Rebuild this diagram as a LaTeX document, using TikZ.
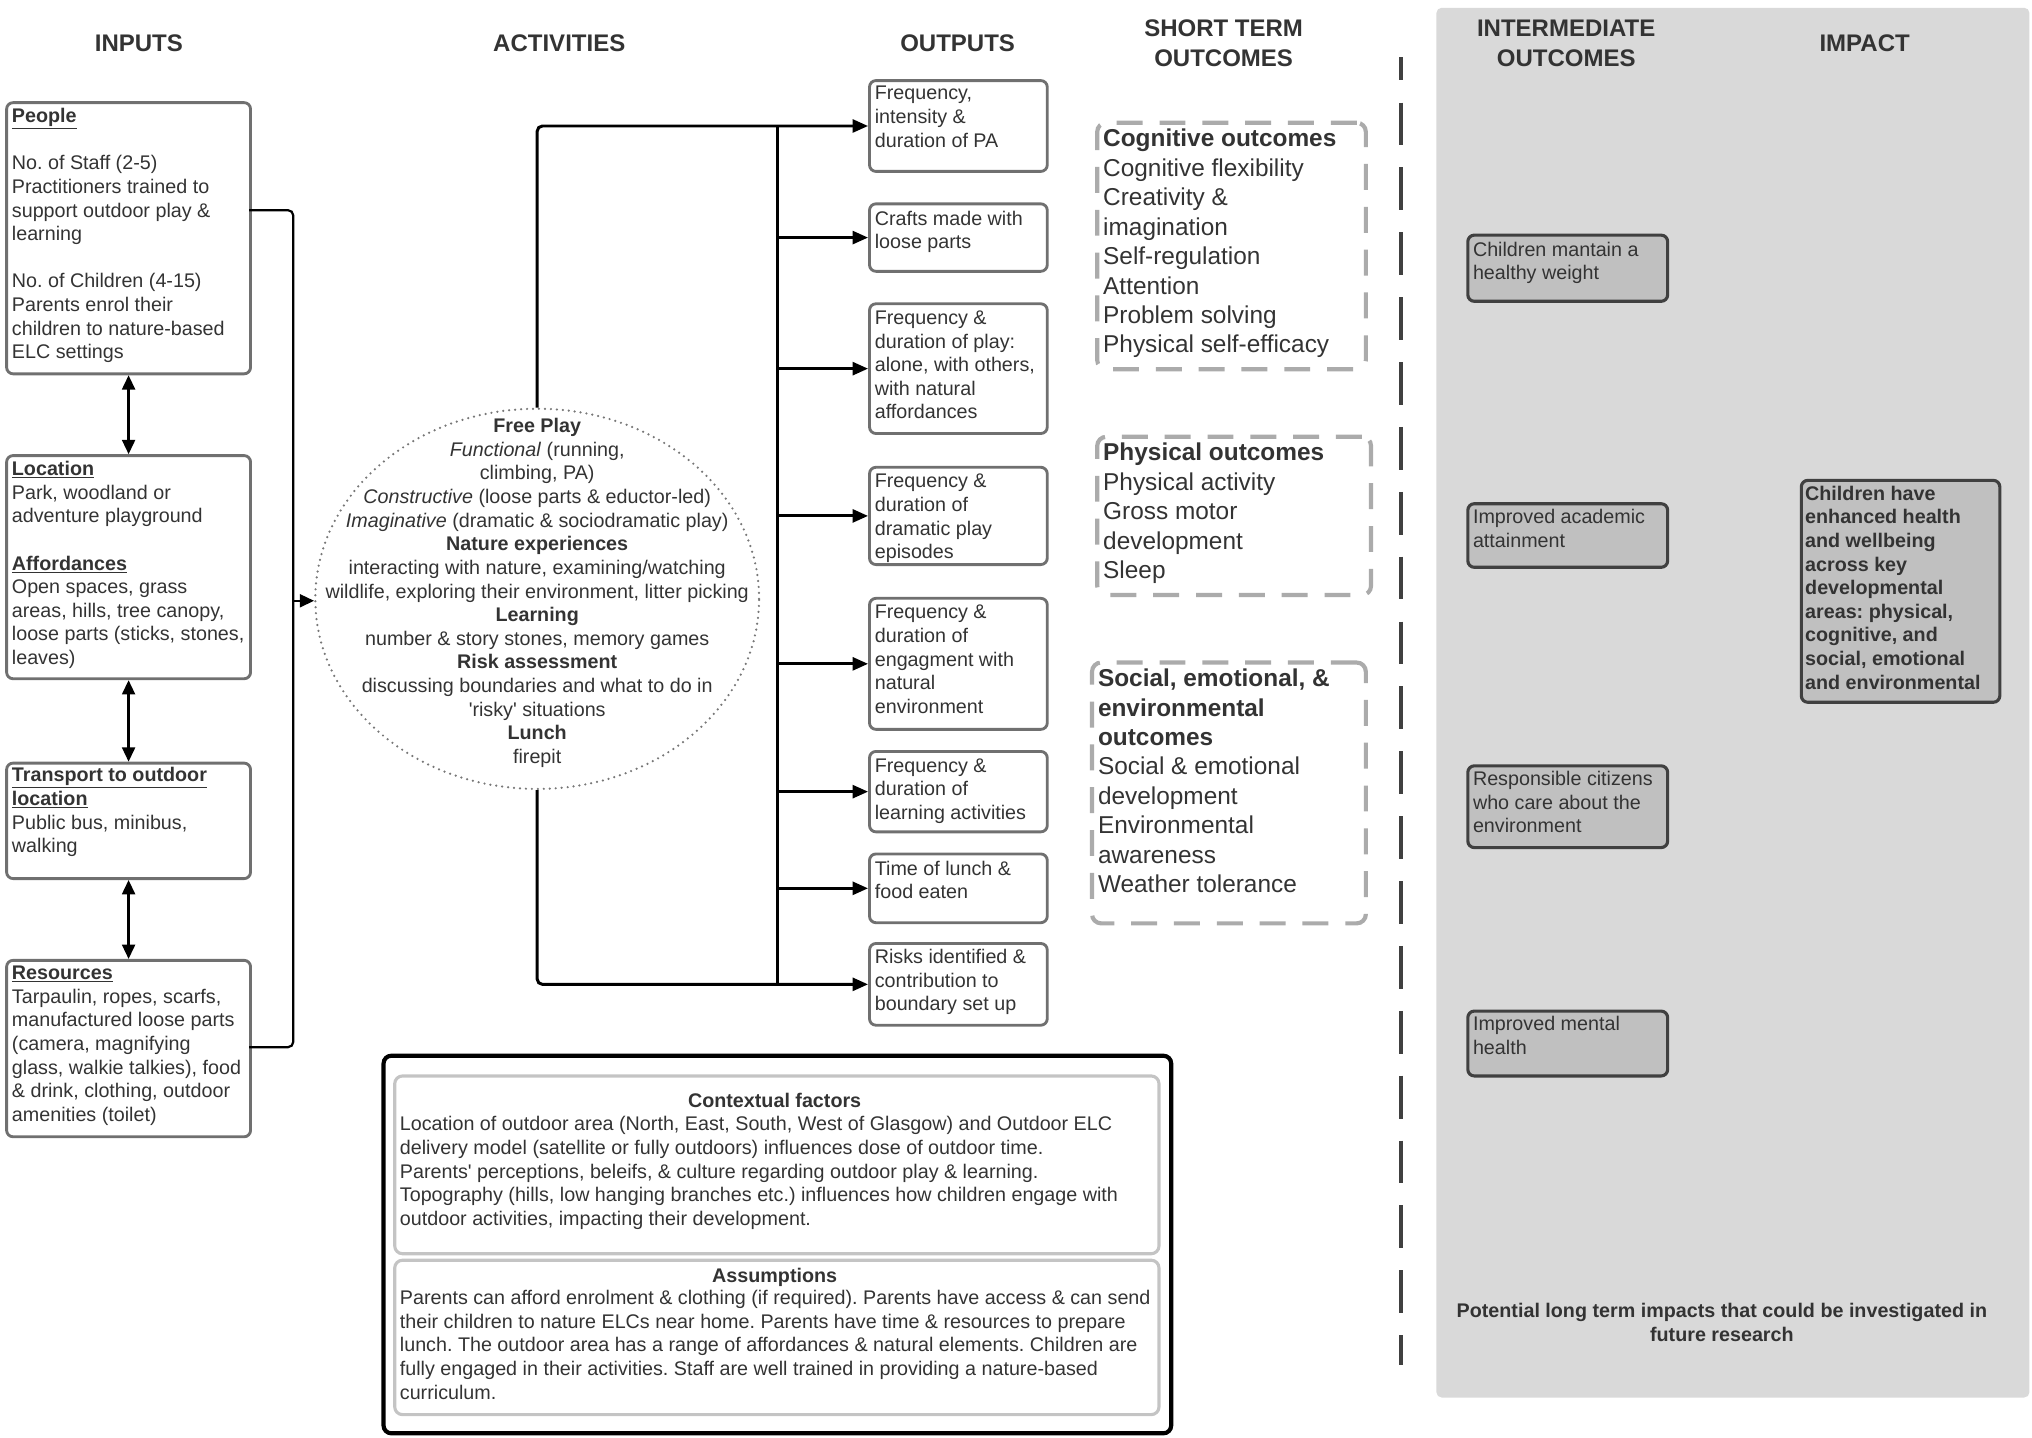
\documentclass[tikz,border=0pt]{standalone}
\usepackage{fontspec}
\setmainfont{Liberation Sans}
\usetikzlibrary{arrows.meta,shapes.geometric,calc}
\definecolor{txt}{HTML}{333333}
\definecolor{boxgray}{HTML}{707070}
\definecolor{dashgray}{HTML}{ABABAB}
\definecolor{dotgray}{HTML}{777777}
\definecolor{panel}{HTML}{D9D9D9}
\definecolor{midfill}{HTML}{C0C0C0}
\definecolor{darkline}{HTML}{404040}
\definecolor{ctxline}{HTML}{C4C4C4}
\newcommand\bodyfont{\fontsize{15.2}{18.2}\selectfont}
\newcommand\bigfont{\fontsize{18.8}{22.7}\selectfont}
\newcommand\hdrfont{\fontsize{18.5}{23}\selectfont\bfseries}
\newcommand\ulb[1]{\underline{\textbf{#1}}}
\frenchspacing
\tikzset{
  hdr/.style={font=\hdrfont, text=txt, align=center, inner sep=0pt, yshift=-1pt},
  body/.style={font=\bodyfont, text=txt, align=left, inner sep=0pt, anchor=north west, yshift=-2pt},
  bodyc/.style={font=\bodyfont, text=txt, align=center, inner sep=0pt, anchor=north, yshift=-2pt},
  bigtext/.style={font=\bigfont, text=txt, align=left, inner sep=0pt, anchor=north west, yshift=-2pt},
  inbox/.style={draw=boxgray, line width=2.2pt, rounded corners=5pt, anchor=north west, inner sep=0pt},
  stbox/.style={draw=dashgray, line width=3.2pt, rounded corners=7pt, dash pattern=on 20pt off 13pt, anchor=north west, inner sep=0pt},
  midbox/.style={draw=darkline, fill=midfill, line width=2.4pt, rounded corners=5pt, anchor=north west, inner sep=0pt},
  ctxbox/.style={draw=ctxline, line width=2.4pt, rounded corners=6pt, anchor=north west, inner sep=0pt},
  outerbox/.style={draw=black, line width=3.2pt, rounded corners=6pt, anchor=north west, inner sep=0pt},
  conn/.style={draw=black, line width=2.3pt, rounded corners=4pt},
  thinconn/.style={draw=black, line width=1.7pt, rounded corners=4pt},
  arr/.style={conn, -{Triangle[length=12pt,width=10pt]}},
  thinarr/.style={thinconn, -{Triangle[length=11pt,width=10pt]}},
  dbl/.style={thinconn, {Triangle[length=11pt,width=10pt]}-{Triangle[length=11pt,width=10pt]}},
  sep/.style={draw=darkline, line width=3pt, dash pattern=on 33pt off 17pt, dash phase=15pt},
}
\begin{document}
\begin{tikzpicture}[x=1pt,y=-1pt]
\useasboundingbox (0,0) rectangle (1566,1108);

% grey panel
\fill[panel, rounded corners=4pt] (1107,6) rectangle (1564,1077);

% headers
\node[hdr] (hInputs) at (107,32) {INPUTS};
\node[hdr] (hAct) at (431,32) {ACTIVITIES};
\node[hdr] (hOut) at (738,32) {OUTPUTS};
\node[hdr] (hShort) at (943,32.5) {SHORT TERM\\OUTCOMES};
\node[hdr] (hInter) at (1207,32.5) {INTERMEDIATE\\OUTCOMES};
\node[hdr] (hImpact) at (1437,32) {IMPACT};

% separator
\draw[sep] (1080,44) -- (1080,1052);

% ---------- inputs ----------
\node[inbox, minimum width=188pt, minimum height=209pt] (people) at (4,78) {};
\node[inbox, minimum width=188pt, minimum height=172pt] (location) at (4,350) {};
\node[inbox, minimum width=188pt, minimum height=89pt] (transport) at (4,587) {};
\node[inbox, minimum width=188pt, minimum height=136pt] (resources) at (4,739) {};

\node[body] (tPeople) at (9,81.3) {\ulb{People}\\[18.2pt]
No. of Staff (2-5)\\
Practitioners trained to\\
support outdoor play \&\\
learning\\[18.2pt]
No. of Children (4-15)\\
Parents enrol their\\
children to nature-based\\
ELC settings};
\node[body] (tLocation) at (9,353.3) {\ulb{Location}\\
Park, woodland or\\
adventure playground\\[18.2pt]
\ulb{Affordances}\\
Open spaces, grass\\
areas, hills, tree canopy,\\
loose parts (sticks, stones,\\
leaves)};
\node[body] (tTransport) at (9,589.3) {\ulb{Transport to outdoor}\\
\ulb{location}\\
Public bus, minibus,\\
walking};
\node[body] (tResources) at (9,742.3) {\ulb{Resources}\\
Tarpaulin, ropes, scarfs,\\
manufactured loose parts\\
(camera, magnifying\\
glass, walkie talkies), food\\
\& drink, clothing, outdoor\\
amenities (toilet)};

\draw[dbl] (people.south) -- (location.north);
\draw[dbl] (location.south) -- (transport.north);
\draw[dbl] (transport.south) -- (resources.north);

% ---------- activities ----------
\node[draw=dotgray, ellipse, minimum width=342pt, minimum height=293pt, line width=1.9pt,
  dash pattern=on 0pt off 4.6pt, line cap=round, inner sep=0pt] (act) at (414,461.5) {};
\node[bodyc] (tAct) at (414,320.3) {\textbf{Free Play}\\
\textit{Functional} (running,\\
climbing, PA)\\
\textit{Constructive} (loose parts \& eductor-led)\\
\textit{Imaginative} (dramatic \& sociodramatic play)\\
\textbf{Nature experiences}\\
interacting with nature, examining/watching\\
wildlife, exploring their environment, litter picking\\
\textbf{Learning}\\
number \& story stones, memory games\\
\textbf{Risk assessment}\\
discussing boundaries and what to do in\\
\textquotesingle risky\textquotesingle{} situations\\
\textbf{Lunch}\\
firepit};

\coordinate (pOut) at (192,162);
\coordinate (rOut) at (192,807);
\coordinate (collect) at (226,463);
\draw[thinconn] (pOut) -- (226,162) -- (226,807) -- (rOut);
\draw[thinarr] (collect) -- (act.west |- collect);

% ---------- outputs ----------
\node[inbox, minimum width=137pt, minimum height=70pt] (o1) at (669,61) {};
\node[inbox, minimum width=137pt, minimum height=52pt] (o2) at (669,156) {};
\node[inbox, minimum width=137pt, minimum height=100pt] (o3) at (669,233) {};
\node[inbox, minimum width=137pt, minimum height=75pt] (o4) at (669,359) {};
\node[inbox, minimum width=137pt, minimum height=101pt] (o5) at (669,460) {};
\node[inbox, minimum width=137pt, minimum height=62pt] (o6) at (669,578) {};
\node[inbox, minimum width=137pt, minimum height=53pt] (o7) at (669,657) {};
\node[inbox, minimum width=137pt, minimum height=63pt] (o8) at (669,726) {};

\node[body] (to1) at (674,64.3) {Frequency,\\intensity \&\\duration of PA};
\node[body] (to2) at (674,160.3) {Crafts made with\\loose parts};
\node[body] (to3) at (674,237.3) {Frequency \&\\duration of play:\\alone, with others,\\with natural\\affordances};
\node[body] (to4) at (674,363.3) {Frequency \&\\duration of\\dramatic play\\episodes};
\node[body] (to5) at (674,464.3) {Frequency \&\\duration of\\engagment with\\natural\\environment};
\node[body] (to6) at (674,582.3) {Frequency \&\\duration of\\learning activities};
\node[body] (to7) at (674,661.3) {Time of lunch \&\\food eaten};
\node[body] (to8) at (674,729.3) {Risks identified \&\\contribution to\\boundary set up};

\coordinate (bus) at (599,0);
\draw[arr] (act.north) |- (o1.west);
\draw[arr] (act.south) |- (o8.west);
\draw[conn, rounded corners=0pt] (bus |- o1.west) -- (bus |- o8.west);
\foreach \o in {o2,o3,o4,o5,o6,o7}{
  \draw[arr] (bus |- \o.west) -- (\o.west);
}

% ---------- short term outcomes ----------
\node[stbox, minimum width=207pt, minimum height=190pt] (s1) at (844,93) {};
\node[stbox, minimum width=211pt, minimum height=122pt] (s2) at (844,335) {};
\node[stbox, minimum width=211pt, minimum height=201pt] (s3) at (840,509) {};
\node[bigtext] (ts1) at (850,97.3) {\textbf{Cognitive outcomes}\\
Cognitive flexibility\\
Creativity \&\\
imagination\\
Self-regulation\\
Attention\\
Problem solving\\
Physical self-efficacy};
\node[bigtext] (ts2) at (850,339.3) {\textbf{Physical outcomes}\\
Physical activity\\
Gross motor\\
development\\
Sleep};
\node[bigtext] (ts3) at (846,513.3) {\textbf{Social, emotional, \&}\\
\textbf{environmental}\\
\textbf{outcomes}\\
Social \& emotional\\
development\\
Environmental\\
awareness\\
Weather tolerance};

% ---------- intermediate & impact ----------
\node[midbox, minimum width=154pt, minimum height=51pt] (m1) at (1130,180) {};
\node[midbox, minimum width=154pt, minimum height=49pt] (m2) at (1130,387) {};
\node[midbox, minimum width=154pt, minimum height=63pt] (m3) at (1130,589) {};
\node[midbox, minimum width=154pt, minimum height=50pt] (m4) at (1130,778) {};
\node[midbox, minimum width=153pt, minimum height=171pt] (imp) at (1387,369) {};
\node[body] (tm1) at (1135,184.3) {Children mantain a\\healthy weight};
\node[body] (tm2) at (1135,390.3) {Improved academic\\attainment};
\node[body] (tm3) at (1135,592.3) {Responsible citizens\\who care about the\\environment};
\node[body] (tm4) at (1135,781.3) {Improved mental\\health};
\node[body, font=\bodyfont\bfseries] (timp) at (1391,372.3) {Children have\\
enhanced health\\
and wellbeing\\
across key\\
developmental\\
areas: physical,\\
cognitive, and\\
social, emotional\\
and environmental};
\node[bodyc, font=\bodyfont\bfseries] (tpot) at (1327,1002.3) {Potential long term impacts that could be investigated in\\future research};

% ---------- context & assumptions ----------
\node[outerbox, minimum width=607pt, minimum height=291pt] (outer) at (294,812) {};
\node[ctxbox, minimum width=589pt, minimum height=137pt] (ctx) at (303,828) {};
\node[ctxbox, minimum width=589pt, minimum height=119pt] (ass) at (303,970) {};
\node[bodyc, font=\bodyfont\bfseries] (tctxh) at (597,840.3) {Contextual factors};
\node[body] (tctx) at (308,858.3) {Location of outdoor area (North, East, South, West of Glasgow) and Outdoor ELC\\
delivery model (satellite or fully outdoors) influences dose of outdoor time.\\
Parents\textquotesingle{} perceptions, beleifs, \& culture regarding outdoor play \& learning.\\
Topography (hills, low hanging branches etc.) influences how children engage with\\
outdoor activities, impacting their development.};
\node[bodyc, font=\bodyfont\bfseries] (tassh) at (597,975.3) {Assumptions};
\node[body] (tass) at (308,992.3) {Parents can afford enrolment \& clothing (if required). Parents have access \& can send\\
their children to nature ELCs near home. Parents have time \& resources to prepare\\
lunch. The outdoor area has a range of affordances \& natural elements. Children are\\
fully engaged in their activities. Staff are well trained in providing a nature-based\\
curriculum.};
\end{tikzpicture}
\end{document}
